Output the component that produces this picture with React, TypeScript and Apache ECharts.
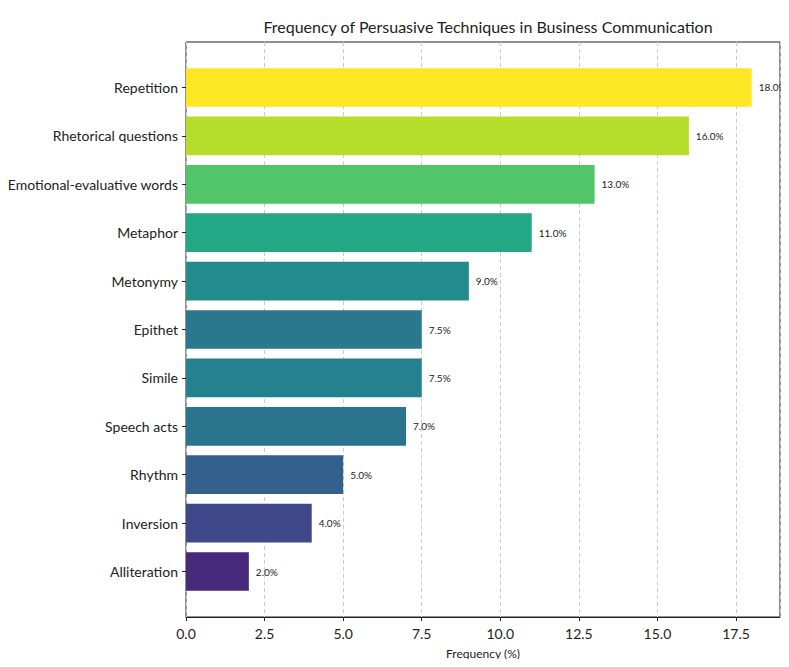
import React, { useEffect, useRef } from "react";
import * as echarts from "echarts";

const categories = [
  "Repetition",
  "Rhetorical questions",
  "Emotional-evaluative words",
  "Metaphor",
  "Metonymy",
  "Epithet",
  "Simile",
  "Speech acts",
  "Rhythm",
  "Inversion",
  "Alliteration",
];
const values = [18.0, 16.0, 13.0, 11.0, 9.0, 7.5, 7.5, 7.0, 5.0, 4.0, 2.0];
const barColors = [
  "#fde725",
  "#b5de2b",
  "#52c569",
  "#22a884",
  "#228c8c",
  "#29788e",
  "#26818e",
  "#2b748e",
  "#33608d",
  "#3f4889",
  "#472a7a",
];
const xTicks = [0, 2.5, 5, 7.5, 10, 12.5, 15, 17.5];
const xMax = 18.9;

const FONT = "Lato, 'DejaVu Sans', sans-serif";

export default function App() {
  const ref = useRef<HTMLDivElement>(null);
  useEffect(() => {
    if (!ref.current) return;
    const chart = echarts.init(ref.current, null, { renderer: "svg" });
    const W = 789;
    const H = 667;
    const left = 186;
    const right = W - 780;
    const top = 42;
    const bottom = H - 617;
    const plotH = H - top - bottom;
    const unit = plotH / 11.88;
    const pad = (0.94 - 0.5) * unit;
    chart.setOption({
      animation: false,
      textStyle: { fontFamily: FONT },
      title: {
        text: "Frequency of Persuasive Techniques in Business Communication",
        left: (left + (W - right)) / 2,
        textAlign: "center",
        top: 13,
        textStyle: { fontFamily: FONT, fontSize: 16, fontWeight: "normal", color: "#222" },
      },
      grid: [
        {
          left,
          right,
          top,
          bottom,
          show: true,
          borderColor: "#222",
          borderWidth: 1,
          backgroundColor: "transparent",
        },
        {
          left,
          right,
          top: top + pad,
          bottom: bottom + pad,
        },
      ],
      xAxis: [
        {
          gridIndex: 0,
          type: "value",
          min: 0,
          max: xMax,
          interval: 2.5,
          name: "Frequency (%)",
          nameLocation: "middle",
          nameGap: 30,
          nameTextStyle: { fontFamily: FONT, fontSize: 12, color: "#222" },
          axisLine: { show: true, lineStyle: { color: "#222", width: 1 } },
          axisTick: { show: true, inside: false, length: 4, lineStyle: { color: "#222" } },
          axisLabel: {
            fontFamily: FONT,
            fontSize: 14,
            color: "#222",
            margin: 9,
            showMaxLabel: false,
            formatter: (v: number) => (xTicks.includes(v) ? v.toFixed(1) : ""),
          },
          splitLine: { show: true, lineStyle: { color: "#cccccc", type: [4, 3], width: 1 } },
        },
        {
          gridIndex: 1,
          type: "value",
          min: 0,
          max: xMax,
          show: false,
        },
      ],
      yAxis: [
        {
          gridIndex: 0,
          type: "value",
          min: 0,
          max: 1,
          show: false,
        },
        {
          gridIndex: 1,
          type: "category",
          data: categories,
          inverse: true,
          axisLine: { show: false },
          axisTick: { show: true, alignWithLabel: true, length: 4, lineStyle: { color: "#222" } },
          axisLabel: { fontFamily: FONT, fontSize: 14, color: "#222", margin: 8 },
        },
      ],
      series: [
        {
          type: "bar",
          xAxisIndex: 1,
          yAxisIndex: 1,
          barWidth: "80%",
          clip: false,
          data: values.map((v, i) => ({ value: v, itemStyle: { color: barColors[i] } })),
          label: {
            show: true,
            position: "right",
            distance: 7,
            fontFamily: FONT,
            fontSize: 10,
            color: "#222",
            formatter: (p: any) => `${Number(p.value).toFixed(1)}%`,
          },
        },
      ],
    });
    return () => chart.dispose();
  }, []);
  return <div ref={ref} style={{ width: 789, height: 667, margin: -8 }} />;
}
